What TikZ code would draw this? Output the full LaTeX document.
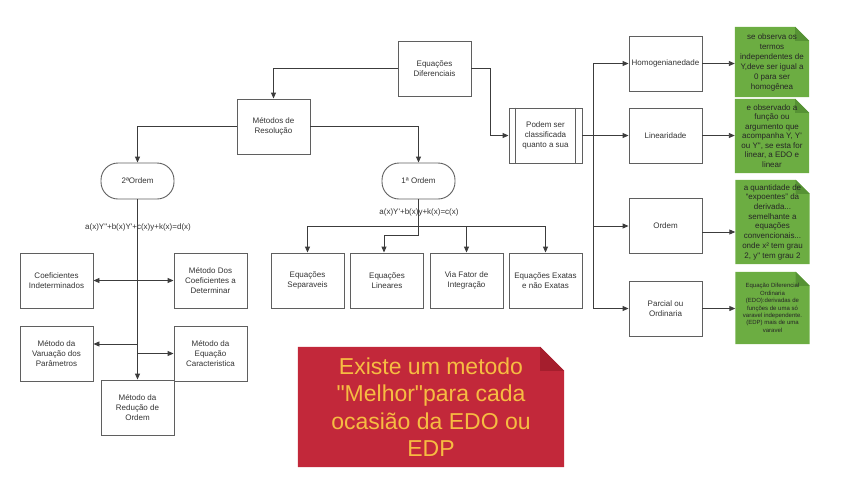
\documentclass[tikz,border=0pt]{standalone}
\usepackage{fontspec}
\setmainfont{Liberation Sans}
\usetikzlibrary{arrows.meta,backgrounds}

\definecolor{notegreen}{RGB}{108,173,66}
\definecolor{notefold}{RGB}{86,146,52}
\definecolor{notered}{RGB}{194,40,58}
\definecolor{redfold}{RGB}{165,30,45}
\definecolor{noteyellow}{RGB}{246,188,66}
\definecolor{linegray}{RGB}{60,60,60}
\definecolor{boxgray}{RGB}{95,95,95}

\begin{document}
\begin{tikzpicture}[x=1pt, y=-1pt, >={Triangle[length=6pt,width=5pt]},
  every node/.style={font=\fontsize{8}{10}\selectfont, text=black!80, align=center},
  methodbox/.style={draw=boxgray, line width=0.9pt, minimum width=73pt, minimum height=55pt, inner sep=1pt},
  pillbox/.style={methodbox, minimum height=36pt, rounded corners=17pt},
  notebox/.style={minimum width=74pt, inner sep=1pt, text=black!85},
  arrowline/.style={draw=linegray, line width=0.9pt}]

  \useasboundingbox (0,0) rectangle (843,483);

  % Main boxes
  \node[methodbox] (edo) at (434.5,68.5) {Equações\\Diferenciais};
  \node[methodbox] (metodos) at (273.5,126.5) {Métodos de\\Resolução};
  \node[pillbox] (ord2) at (137.5,181) {2ªOrdem};
  \node[pillbox] (ord1) at (418.5,181) {1ª Ordem};
  \node (eqord2) at (138,227) {a(x)Y\textquotedbl+b(x)Y\textquotesingle+c(x)y+k(x)=d(x)};
  \node (eqord1) at (419,212) {a(x)Y\textquotesingle+b(x)y+k(x)=c(x)};

  % Second order methods
  \node[methodbox] (coefind) at (56.5,280.5) {Coeficientes\\Indeterminados};
  \node[methodbox] (coefdet) at (210.5,280.5) {Método Dos\\Coeficientes a\\Determinar};
  \node[methodbox] (varpar) at (56.5,353.5) {Método da\\Varuação dos\\Parâmetros};
  \node[methodbox] (eqcar) at (210.5,353.5) {Método da\\Equação\\Caracteristica};
  \node[methodbox] (reducao) at (137.5,407.5) {Método da\\Redução de\\Ordem};

  % First order methods
  \node[methodbox] (sep) at (307.5,280.5) {Equações\\Separaveis};
  \node[methodbox] (lin) at (387,280.5) {Equações\\Lineares};
  \node[methodbox] (fator) at (466.5,280.5) {Via Fator de\\Integração};
  \node[methodbox] (exatas) at (545.5,280.5) {Equações Exatas\\e não Exatas};

  % Classification
  \node[methodbox] (podem) at (545.5,135.5) {Podem ser\\classificada\\quanto a sua};
  \draw[draw=boxgray, line width=0.9pt] ([xshift=7pt]podem.north west) -- ([xshift=7pt]podem.south west);
  \draw[draw=boxgray, line width=0.9pt] ([xshift=-7pt]podem.north east) -- ([xshift=-7pt]podem.south east);
  \node[methodbox] (homog) at (665.5,63.5) {Homogenianedade};
  \node[methodbox] (linear) at (665.5,135.5) {Linearidade};
  \node[methodbox] (ordem) at (665.5,226) {Ordem};
  \node[methodbox] (parcial) at (665.5,308.5) {Parcial ou\\Ordinaria};

  % Notes
  \node[notebox, minimum height=70pt] (nhomog) at (772,62)
    {se observa os\\termos\\independentes de\\Y,deve ser igual a\\0 para ser\\homogênea};
  \node[notebox, minimum height=74pt, font=\fontsize{8}{9.5}\selectfont] (nlinear) at (772,136)
    {e observado a\\função ou\\argumento que\\acompanha Y, Y\textquotesingle\\ou Y\textquotedbl, se esta for\\linear, a EDO e\\linear};
  \node[notebox, minimum height=84pt, font=\fontsize{8}{9.7}\selectfont] (nordem) at (772.5,222)
    {a quantidade de\\“expoentes” da\\derivada...\\semelhante a\\equações\\convencionais...\\onde x² tem grau\\2, y\textquotedbl\ tem grau 2};
  \node[notebox, minimum height=72pt, font=\fontsize{6}{7.4}\selectfont] (nparcial) at (772.5,308)
    {Equação Diferencial\\Ordinaria\\(EDO):derivadas de\\funções de uma só\\varavel independente.\\(EDP) mais de uma\\varavel};
  \node[minimum width=266pt, minimum height=120pt, text=noteyellow,
    font=\fontsize{23}{27.5}\selectfont] (nmelhor) at (431,407)
    {Existe um metodo\\\textquotedbl Melhor\textquotedbl para cada\\ocasião da EDO ou\\EDP};

  % Note fills with folded corner
  \begin{scope}[on background layer]
    \foreach \n/\f/\c/\d in {nhomog/14/notegreen/notefold, nlinear/14/notegreen/notefold,
        nordem/14/notegreen/notefold, nparcial/14/notegreen/notefold, nmelhor/24/notered/redfold}{
      \fill[\c] (\n.north west) -- ([xshift=-\f pt]\n.north east) -- ([yshift=-\f pt]\n.north east)
        -- (\n.south east) -- (\n.south west) -- cycle;
      \fill[\d] ([xshift=-\f pt]\n.north east) -- ([yshift=-\f pt]\n.north east)
        -- ([xshift=-\f pt, yshift=-\f pt]\n.north east) -- cycle;
    }
  \end{scope}

  % Connectors at the top
  \draw[arrowline,->] (edo.west) -| (metodos.north);
  \draw[arrowline,->] (edo.east) -- ++(19,0) |- (podem.west);
  \draw[arrowline,->] (metodos.west) -| (ord2.north);
  \draw[arrowline,->] (metodos.east) -| (ord1.north);

  % Second order branch
  \draw[arrowline,->] (ord2.south) -- (reducao.north);
  \draw[arrowline,<->] (coefind.east) -- (coefdet.west);
  \coordinate (vp) at ([yshift=9.5pt]varpar.east);
  \draw[arrowline,->] (reducao.north |- vp) -- (vp);
  \draw[arrowline,->] (reducao.north |- eqcar.west) -- (eqcar.west);

  % First order branch
  \draw[arrowline,->] (ord1.south) -- ++(0,36) -| ([xshift=-3pt]lin.north);
  \coordinate (bus) at (ord1.south |- 0,226);
  \draw[arrowline,->] (bus) -| (sep.north);
  \draw[arrowline,->] (bus) -| (fator.north);
  \draw[arrowline,->] (bus) -| (exatas.north);

  % Classification branch
  \draw[arrowline,->] (podem.east) -- (linear.west);
  \coordinate (cls) at (593,135.5);
  \draw[arrowline,->] (cls) |- (homog.west);
  \draw[arrowline,->] (cls) |- (ordem.west);
  \draw[arrowline,->] (cls) |- (parcial.west);

  % Boxes to notes
  \draw[arrowline,->] (homog.east) -- (homog.east -| nhomog.west);
  \draw[arrowline,->] (linear.east) -- (linear.east -| nlinear.west);
  \draw[arrowline,->] ([yshift=-6pt]ordem.east) -- ([yshift=-6pt]ordem.east -| nordem.west);
  \draw[arrowline,->] (parcial.east) -- (parcial.east -| nparcial.west);

\end{tikzpicture}
\end{document}
